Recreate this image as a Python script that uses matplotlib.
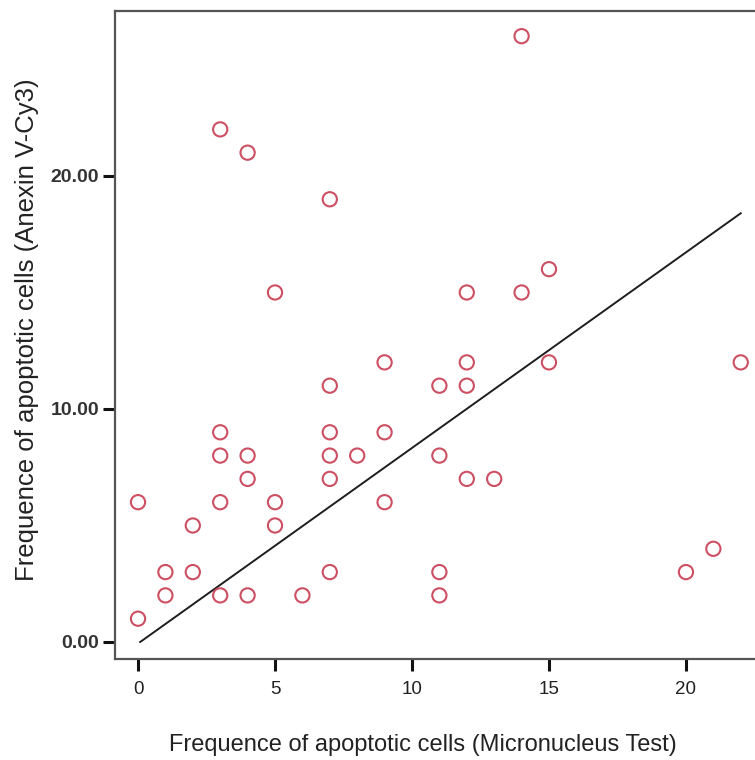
import matplotlib
matplotlib.use("Agg")
import matplotlib.pyplot as plt

# micronucleus test counts (x) vs annexin V-Cy3 counts (y)
mn_test = [0, 0, 1, 1, 2, 2, 3, 3, 3, 3, 3, 4, 4, 4, 4, 5, 5, 5, 6,
           7, 7, 7, 7, 7, 7, 8, 9, 9, 9, 11, 11, 11, 11, 12, 12, 12, 12,
           13, 14, 14, 15, 15, 20, 21, 22]
annexin = [6, 1, 3, 2, 5, 3, 22, 9, 8, 6, 2, 21, 8, 7, 2, 15, 6, 5, 2,
           19, 11, 9, 8, 7, 3, 8, 12, 9, 6, 11, 8, 3, 2, 15, 12, 11, 7,
           7, 26, 15, 16, 12, 3, 4, 12]

# fitted line end points
fit_x = [0.08, 22]
fit_y = [0, 18.4]

x_ticks = [0, 5, 10, 15, 20]
y_ticks = [0, 10, 20]

plt.rcParams["font.family"] = ["Liberation Sans", "DejaVu Sans"]

fig = plt.figure(figsize=(7.55, 7.6), dpi=100)
ax = fig.add_axes([115 / 755, 101 / 760, 640 / 755, 648 / 760])

ax.plot(fit_x, fit_y, color="#1e1e1e", linewidth=1.4)
ax.scatter(mn_test, annexin, s=105, facecolors="none",
           edgecolors="#cc4f62", linewidths=1.5, zorder=3)

ax.set_xlim(-0.84, 22.52)
ax.set_ylim(-0.73, 27.08)

ax.set_xticks(x_ticks)
ax.set_xticklabels([str(v) for v in x_ticks], fontsize=13.5,
                   color="#222222")
ax.set_yticks(y_ticks)
ax.set_yticklabels([f"{v:.2f}" for v in y_ticks], fontsize=14,
                   fontweight="bold", color="#333333")
ax.tick_params(axis="both", direction="out", length=8.5, width=2.2,
               color="#111111")
ax.tick_params(axis="x", pad=7)
ax.tick_params(axis="y", pad=3)

for side in ("left", "bottom", "top"):
    ax.spines[side].set_color("#555555")
    ax.spines[side].set_linewidth(1.6)
ax.spines["right"].set_visible(False)

fig.text(423 / 755, 1 - 745 / 760,
         "Frequence of apoptotic cells (Micronucleus Test)",
         fontsize=17, color="#222222", ha="center", va="center")
fig.text(27 / 755, 1 - 330 / 760,
         "Frequence of apoptotic cells (Anexin V-Cy3)",
         fontsize=18.5, color="#222222", ha="center", va="center",
         rotation=90)

plt.savefig("out.png", dpi=100)
plt.close(fig)
